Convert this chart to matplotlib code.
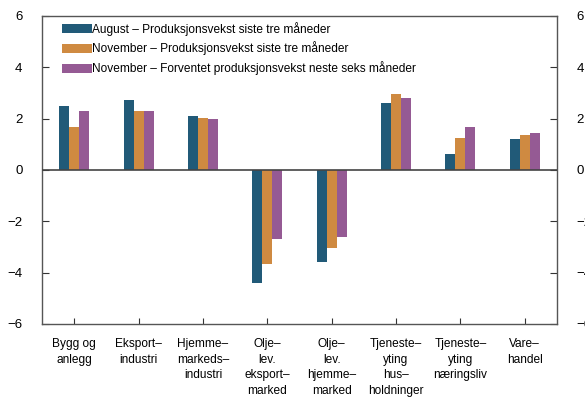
import numpy as np
import matplotlib
matplotlib.use("Agg")
import matplotlib.pyplot as plt

plt.rcParams['font.family'] = ['Liberation Sans', 'DejaVu Sans']

# Kategorier og verdier (lest av figuren)
categories = ["Bygg og\nanlegg", "Eksport\u2013\nindustri", "Hjemme\u2013\nmarkeds\u2013\nindustri",
              "Olje\u2013\nlev.\neksport\u2013\nmarked", "Olje\u2013\nlev.\nhjemme\u2013\nmarked",
              "Tjeneste\u2013\nyting\nhus\u2013\nholdninger", "Tjeneste\u2013\nyting\nnæringsliv",
              "Vare\u2013\nhandel"]
aug_siste = [2.48, 2.72, 2.1, -4.4, -3.6, 2.6, 0.62, 1.2]
nov_siste = [1.67, 2.3, 2.02, -3.68, -3.03, 2.95, 1.25, 1.36]
nov_forv = [2.3, 2.3, 1.98, -2.68, -2.6, 2.8, 1.67, 1.44]
labels = ["August \u2013 Produksjonsvekst siste tre måneder",
          "November \u2013 Produksjonsvekst siste tre måneder",
          "November \u2013 Forventet produksjonsvekst neste seks måneder"]
colors = ["#215a78", "#cf8a41", "#955a94"]
yticks = [-6, -4, -2, 0, 2, 4, 6]

fig = plt.figure(figsize=(5.85, 4.01), dpi=100)
ax = fig.add_axes([42/585, 1 - 324/401, 515/585, 308/401])

x = np.arange(len(categories))
w = 0.155
for i, (vals, lab, c) in enumerate(zip([aug_siste, nov_siste, nov_forv], labels, colors)):
    ax.bar(x + (i - 1) * w, vals, w, color=c, label=lab, zorder=2)

ax.axhline(0, color="#444444", lw=1.2, zorder=3)
ax.set_xlim(-0.5, len(categories) - 0.5)
ax.set_ylim(-6, 6)
ax.set_yticks(yticks)
ax.set_yticklabels([("\u2212%d" % -t) if t < 0 else str(t) for t in yticks])
ax.set_xticks(x)
ax.set_xticklabels(categories, fontsize=8.6, linespacing=1.42)
ax.tick_params(axis='x', direction='in', length=4, pad=10, color="#333333")
ax.tick_params(axis='y', direction='in', length=5, pad=14, labelsize=9.5,
               left=True, right=True, labelright=True, color="#333333")
for s in ax.spines.values():
    s.set_color("#555555")
    s.set_linewidth(1.0)

ax.legend(loc="upper left", bbox_to_anchor=(0.025, 1.005), frameon=False, fontsize=8.6,
          handlelength=2.5, handleheight=0.75, handletextpad=0.0, labelspacing=0.5,
          borderaxespad=0.2)

fig.savefig("out.png", dpi=100)
